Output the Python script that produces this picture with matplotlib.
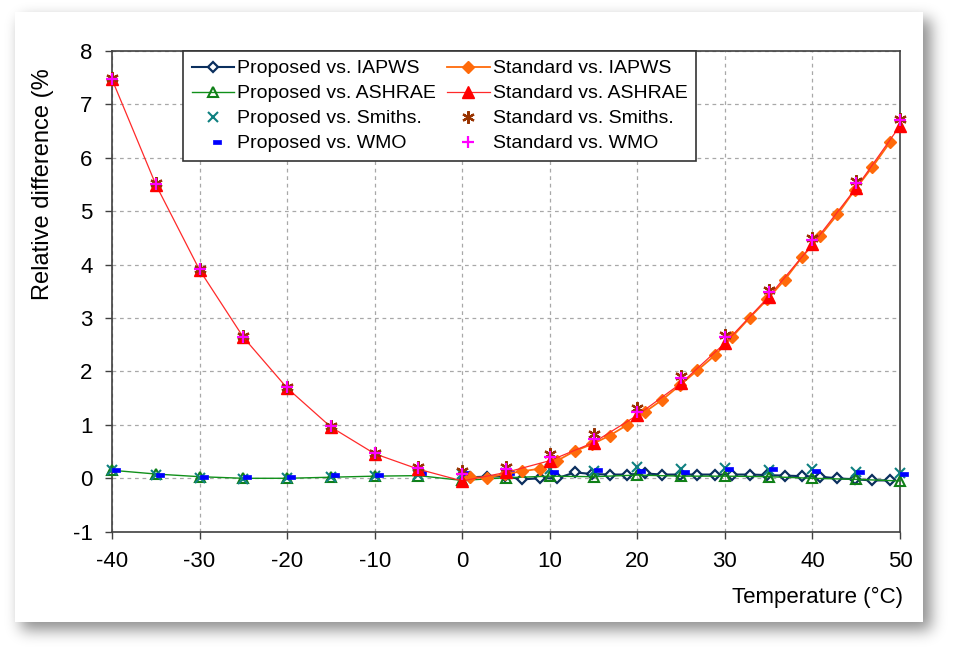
import numpy as np
import matplotlib
matplotlib.use('Agg')
import matplotlib.pyplot as plt
from matplotlib.patches import Rectangle
from matplotlib.path import Path
from matplotlib.transforms import Bbox

# ---------------- data ----------------
temp_5 = [-40, -35, -30, -25, -20, -15, -10, -5, 0, 5, 10, 15, 20, 25, 30, 35, 40, 45, 50]
temp_iapws = [0.85, 2.85, 4.85, 6.85, 8.85, 10.85, 12.85, 14.85, 16.85, 18.85, 20.85, 22.85,
              24.85, 26.85, 28.85, 30.85, 32.85, 34.85, 36.85, 38.85, 40.85, 42.85, 44.85,
              46.85, 48.85]

prop_iapws = [0.02, 0.03, 0.04, -0.02, 0.00, 0.00, 0.11, 0.08, 0.07, 0.07, 0.09, 0.07,
              0.07, 0.07, 0.07, 0.07, 0.07, 0.06, 0.05, 0.04, 0.03, 0.00, -0.02, -0.04, -0.04]
prop_ashrae = [0.15, 0.08, 0.03, 0.00, 0.00, 0.02, 0.04, 0.05, -0.04, 0.01, 0.04, 0.03,
               0.06, 0.04, 0.04, 0.03, 0.00, -0.02, -0.05]
prop_smiths = [0.16, 0.06, 0.00, -0.02, 0.00, 0.02, 0.05, 0.07, 0.08, 0.10, 0.17, 0.14,
               0.21, 0.17, 0.19, 0.16, 0.17, 0.11, 0.09]
prop_wmo = [0.16, 0.07, 0.02, 0.02, 0.02, 0.06, 0.06, 0.10, 0.10, 0.10, 0.12, 0.16,
            0.14, 0.11, 0.17, 0.17, 0.14, 0.11, 0.08]

std_iapws = [0.02, 0.01, 0.08, 0.13, 0.18, 0.33, 0.51, 0.64, 0.80, 1.00, 1.24, 1.47,
             1.74, 2.02, 2.30, 2.65, 3.01, 3.35, 3.72, 4.15, 4.53, 4.94, 5.40, 5.83, 6.29]
std_ashrae = [7.47, 5.50, 3.90, 2.64, 1.69, 0.96, 0.46, 0.17, -0.05, 0.11, 0.33, 0.67,
              1.18, 1.78, 2.53, 3.40, 4.38, 5.44, 6.60]
std_smiths = [7.49, 5.52, 3.92, 2.66, 1.71, 0.98, 0.48, 0.22, 0.14, 0.22, 0.45, 0.83,
              1.31, 1.92, 2.68, 3.52, 4.50, 5.56, 6.72]
std_wmo = [7.48, 5.51, 3.91, 2.65, 1.70, 0.97, 0.47, 0.19, 0.08, 0.17, 0.39, 0.74,
           1.25, 1.88, 2.64, 3.48, 4.47, 5.53, 6.71]

labels = ['Proposed vs. IAPWS', 'Proposed vs. ASHRAE', 'Proposed vs. Smiths.', 'Proposed vs. WMO',
          'Standard vs. IAPWS', 'Standard vs. ASHRAE', 'Standard vs. Smiths.', 'Standard vs. WMO']
x_ticks = [-40, -30, -20, -10, 0, 10, 20, 30, 40, 50]
y_ticks = [-1, 0, 1, 2, 3, 4, 5, 6, 7, 8]

# ---------------- figure ----------------
plt.rcParams['font.family'] = ['Liberation Sans', 'DejaVu Sans']
plt.rcParams['axes.unicode_minus'] = False
W, H = 957, 653
fig = plt.figure(figsize=(W / 100, H / 100), dpi=100)
fig.patch.set_facecolor('white')

# card with drop shadow
cx0, cy0, cx1, cy1 = 15, 12, 923, 622
mask = np.zeros((H, W))
mask[cy0 + 7:cy1 + 8, cx0 + 6:cx1 + 8] = 1.0
sigma = 7.5
r = int(3 * sigma)
k = np.exp(-0.5 * (np.arange(-r, r + 1) / sigma) ** 2)
k /= k.sum()
blur = np.apply_along_axis(lambda m: np.convolve(m, k, mode='same'), 0, mask)
blur = np.apply_along_axis(lambda m: np.convolve(m, k, mode='same'), 1, blur)
rgba = np.zeros((H, W, 4))
rgba[..., 3] = 0.45 * blur
fig.figimage(rgba, xo=0, yo=0, origin='upper', zorder=0)
card = Rectangle((cx0 / W, 1 - cy1 / H), (cx1 - cx0) / W, (cy1 - cy0) / H,
                 transform=fig.transFigure, facecolor='white', edgecolor='none', zorder=1)
fig.add_artist(card)

ax = fig.add_axes([112 / W, 1 - 531.7 / H, (900 - 112) / W, (531.7 - 51) / H], zorder=2)
ax.set_xlim(-40, 50)
ax.set_ylim(-1, 8)
ax.set_xticks(x_ticks)
ax.set_yticks(y_ticks)
ax.set_axisbelow(True)
ax.grid(True, color='#a8a8a8', linestyle=(0, (3, 3)), linewidth=0.9)
for s in ax.spines.values():
    s.set_color('#404040')
    s.set_linewidth(1.2)
ax.tick_params(direction='out', length=5, width=1, color='#404040', labelsize=16, pad=9)

dash_marker = Path([(0.05, -0.2), (1, -0.2), (1, 0.25), (0.05, 0.25), (0.05, -0.2)],
                   [Path.MOVETO, Path.LINETO, Path.LINETO, Path.LINETO, Path.CLOSEPOLY])
asterisk = (6, 2, 0)

h = []
h += ax.plot(temp_iapws, prop_iapws, color='#0b2f5e', lw=1.5, marker='D', ms=5.5,
             mfc='white', mec='#0b2f5e', mew=1.6, clip_on=False, zorder=3)
h += ax.plot(temp_5, prop_ashrae, color='#10901a', lw=1.0, marker='^', ms=7.5,
             mfc='none', mec='#108018', mew=1.5, clip_on=False, zorder=4)
h += ax.plot(temp_5, prop_smiths, ls='none', marker='x', ms=7.5, mec='#0f8080', mew=1.5,
             clip_on=False, zorder=5)
h += ax.plot(temp_5, prop_wmo, ls='none', marker=dash_marker, ms=11, mfc='#0000ff',
             mec='#0000ff', mew=0.5, clip_on=False, zorder=6)
h += ax.plot(temp_iapws, std_iapws, color='#ff6a0a', lw=1.3, marker='D', ms=6,
             mfc='#ff6a0a', mec='#ff6a0a', mew=1.0, clip_on=False, zorder=7)
h += ax.plot(temp_5, std_ashrae, color='#ff2a2a', lw=0.9, marker='^', ms=8.5,
             mfc='#ff0000', mec='#ff0000', mew=1.0, clip_on=False, zorder=8)
h += ax.plot(temp_5, std_smiths, ls='none', marker=asterisk, ms=9, mec='#993300', mew=1.6,
             clip_on=False, zorder=9)
h += ax.plot(temp_5, std_wmo, ls='none', marker='+', ms=9, mec='#ff00ff', mew=1.6,
             clip_on=False, zorder=10)

leg = ax.legend(h, labels, ncol=2, loc='upper left', bbox_to_anchor=(0.09, 1.0),
                borderaxespad=0, fontsize=14, frameon=True, fancybox=False,
                edgecolor='#333333', framealpha=1, handlelength=2.2, handletextpad=0.15,
                columnspacing=0.55, labelspacing=0.38, borderpad=0.45)
leg.get_frame().set_linewidth(1.2)
leg.set_zorder(20)

fig.text(903 / W, 1 - 597 / H, 'Temperature (°C)', ha='right', va='center', fontsize=16)
yl = fig.text(43 / W, 1 - 300 / H, 'Relative difference (%)', rotation=90,
              ha='center', va='bottom', fontsize=17)
yl.set_clip_box(Bbox([[0, 0], [W, H - 70]]))

fig.savefig('out.png', dpi=100)
